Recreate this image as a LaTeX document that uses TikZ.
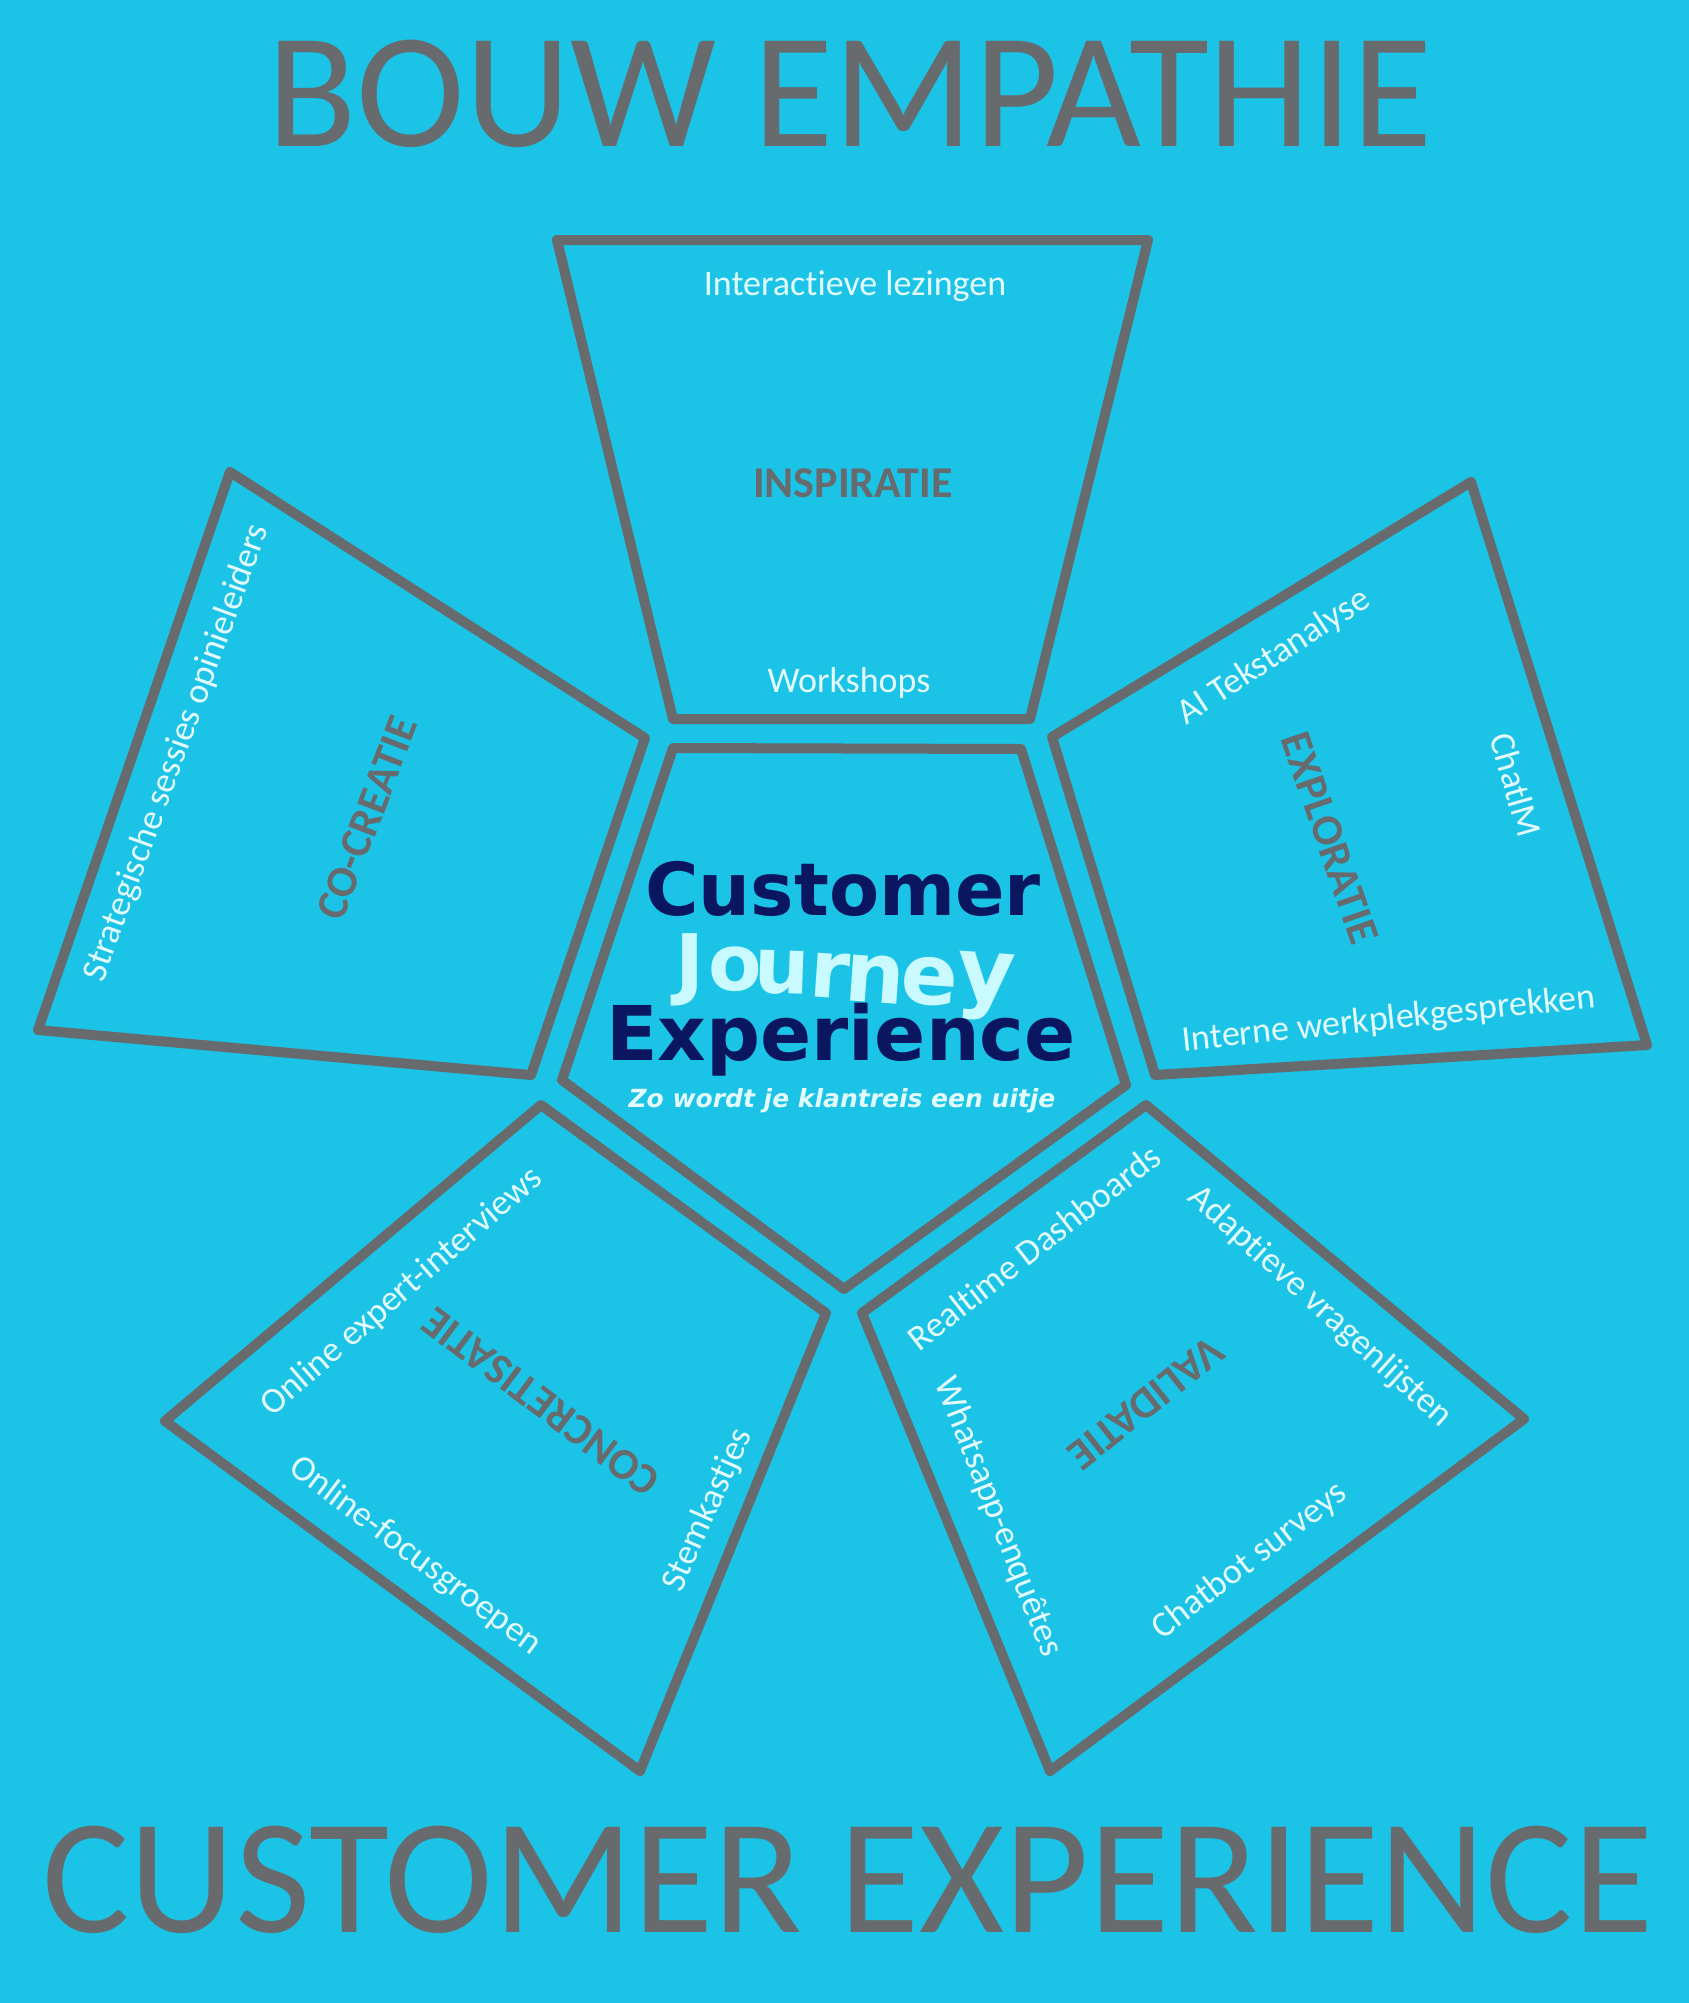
\documentclass[tikz,border=0pt]{standalone}
\usepackage{fontspec}
\setmainfont{Carlito}[Ligatures=NoCommon]
\newfontfamily\dvs{DejaVu Sans}
\definecolor{bgc}{HTML}{1BC3E6}
\definecolor{lgray}{HTML}{686B6D}
\definecolor{navy}{HTML}{0B1660}
\definecolor{jcyan}{HTML}{C8FAFF}
\definecolor{ltxt}{HTML}{E2FBFF}
\begin{document}
\begin{tikzpicture}[x=1pt,y=1pt,
  panel/.style={draw=lgray, line width=10pt, line join=round},
  item/.style={text=ltxt, font=\fontsize{36}{36}\selectfont, inner sep=0pt},
  cat/.style={text=lgray, font=\bfseries\fontsize{44}{44}\selectfont, inner sep=0pt},
  bigtitle/.style={text=lgray, font=\fontsize{164}{164}\selectfont, inner sep=0pt, anchor=base},
  ctr/.style={text=navy, font=\dvs\bfseries\fontsize{73}{73}\selectfont, inner sep=0pt, anchor=base},
  jl/.style={text=jcyan, font=\dvs\bfseries\fontsize{78}{78}\selectfont, inner sep=0pt, anchor=base}]
\fill[bgc] (0,0) rectangle (1689,-2003);
\useasboundingbox (0,0) rectangle (1689,-2003);

% titles
\node[bigtitle] (t1) at (850,-146) {BOUW EMPATHIE};
\node[bigtitle] (t2) at (848,-1932) {CUSTOMER EXPERIENCE};

% panels
\draw[panel] (557,-240) -- (1148,-240) -- (1030,-719) -- (673,-719) -- cycle;
\draw[panel] (230,-472) -- (645,-738) -- (531,-1075) -- (38,-1030) -- cycle;
\draw[panel] (1471,-482) -- (1647,-1045) -- (1155,-1075) -- (1052,-737) -- cycle;
\draw[panel] (673,-748) -- (1021,-749) -- (1126,-1085) -- (844,-1289) -- (562,-1080) -- cycle;
\draw[panel] (541,-1105) -- (826,-1313) -- (640,-1771) -- (165,-1421) -- cycle;
\draw[panel] (1146,-1105) -- (1524,-1419) -- (1050,-1771) -- (862,-1313) -- cycle;

% top panel
\node[item, anchor=base] (i1) at (855,-295) {Interactieve lezingen};
\node[cat, anchor=base] (k1) at (853,-497) {INSPIRATIE};
\node[item, anchor=base] (i2) at (849,-692) {Workshops};

% left panel
\node[item, rotate=70] (i3) at (177,-753) {Strategische sessies opinieleiders};
\node[cat, rotate=69] (k2) at (367,-818) {CO-CREATIE};

% right panel
\node[item, rotate=33] (i4) at (1274,-657) {AI Tekstanalyse};
\node[cat, rotate=-71] (k3) at (1330,-838) {EXPLORATIE};
\node[item, rotate=-74] (i5) at (1516,-785) {ChatlM};
\node[item, rotate=6] (i6) at (1389,-1020) {Interne werkplekgesprekken};

% bottom-left panel
\node[item, rotate=41] (i7) at (402,-1292) {Online expert-interviews};
\node[cat, rotate=143] (k4) at (541,-1402) {CONCRETISATIE};
\node[item, rotate=-37] (i8) at (415,-1556) {Online-focusgroepen};
\node[item, rotate=66] (i9) at (708,-1510) {Stemkastjes};

% bottom-right panel
\node[item, rotate=38] (i10) at (1034,-1247) {Realtime Dashboards};
\node[item, rotate=-42] (i11) at (1320,-1307) {Adaptieve vragenlijsten};
\node[cat, rotate=-141.5] (k5) at (1146,-1403) {VALIDATIE};
\node[item, rotate=-68.5] (i12) at (998,-1517) {Whatsapp-enquêtes};
\node[item, rotate=37.5] (i13) at (1250,-1561) {Chatbot surveys};

% center
\node[ctr] (c1) at (843,-915) {Customer};
\node[jl] (j1) at (690,-990) {J};
\node[jl] (j2) at (735,-990) {o};
\node[jl, rotate=-2] (j3) at (781,-993) {u};
\node[jl, rotate=-4, scale=1.03] (j4) at (828,-998) {r};
\node[jl, rotate=-4, scale=1.08] (j5) at (873,-1003) {n};
\node[jl, rotate=-4, scale=1.08] (j6) at (928,-1004) {e};
\node[jl, rotate=-4, scale=1.14] (j7) at (984,-1002) {y};
\node[ctr, font=\dvs\bfseries\fontsize{75.5}{76}\selectfont] (c3) at (841,-1060) {Experience};
\node[text=ltxt, font=\dvs\bfseries\itshape\fontsize{25}{25}\selectfont, inner sep=0pt, anchor=base] (c4) at (842,-1107) {Zo wordt je klantreis een uitje};
\end{tikzpicture}
\end{document}
